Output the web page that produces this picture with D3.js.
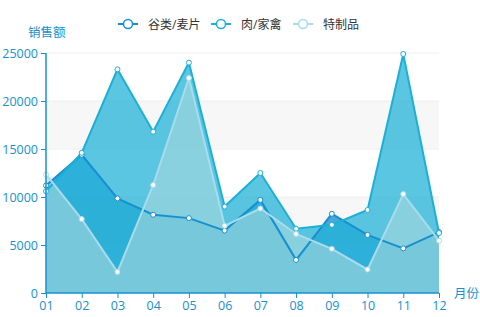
<!DOCTYPE html>
<html>
<head>
<meta charset="utf-8">
<script src="https://cdn.jsdelivr.net/npm/d3@7"></script>
<style>
  body { margin: 0; background: #fff; }
  svg { display: block; font-family: "Open Sans", "Noto Sans CJK SC", sans-serif; }
</style>
</head>
<body>
<svg width="480" height="317"></svg>
<script>
var months = ["01", "02", "03", "04", "05", "06", "07", "08", "09", "10", "11", "12"];
var seriesNames = ["谷类/麦片", "肉/家禽", "特制品"];
var cereal = [11200, 14400, 9850, 8150, 7800, 6500, 9700, 3450, 8250, 6050, 4650, 6350];
var meat = [10600, 14600, 23300, 16800, 24000, 9000, 12500, 6700, 7100, 8650, 24900, 6250];
var special = [12350, 7700, 2200, 11250, 22400, 7000, 8800, 6150, 4600, 2450, 10300, 5450];
var yTicks = [0, 5000, 10000, 15000, 20000, 25000];

var lineColors = ["#1790cf", "#1bb0d8", "#a8dcec"];
var fillColors = ["#1790cf", "#24b3d8", "#aad8de"];
var fillOpacity = [0.78, 0.75, 0.6];
var axisColor = "#1790cf";

var svg = d3.select("svg");
var plotLeft = 46, plotRight = 439, plotTop = 53, plotBottom = 293;

var x = d3.scalePoint().domain(months).range([plotLeft, plotRight]);
var y = d3.scaleLinear().domain([0, 25000]).range([plotBottom, plotTop]);

// split areas
for (var i = 0; i < yTicks.length - 1; i++) {
  svg.append("rect")
    .attr("x", plotLeft).attr("width", plotRight - plotLeft)
    .attr("y", y(yTicks[i + 1])).attr("height", y(yTicks[i]) - y(yTicks[i + 1]))
    .attr("fill", i % 2 ? "#f7f7f7" : "#fff");
}

// grid lines
svg.append("g").selectAll("line")
  .data(yTicks.slice(1))
  .enter().append("line")
  .attr("x1", plotLeft).attr("x2", plotRight)
  .attr("y1", d => y(d)).attr("y2", d => y(d))
  .attr("stroke", "#eee");

var data = [cereal, meat, special];

var area = d3.area()
  .x((d, i) => x(months[i]))
  .y0(y(0))
  .y1(d => y(d));
var line = d3.line()
  .x((d, i) => x(months[i]))
  .y(d => y(d));

data.forEach(function (s, k) {
  svg.append("path")
    .attr("d", area(s))
    .attr("fill", fillColors[k])
    .attr("fill-opacity", fillOpacity[k]);
});
data.forEach(function (s, k) {
  svg.append("path")
    .attr("d", line(s))
    .attr("fill", "none")
    .attr("stroke", lineColors[k])
    .attr("stroke-width", 2);
});
data.forEach(function (s, k) {
  svg.append("g").selectAll("circle")
    .data(s)
    .enter().append("circle")
    .attr("cx", (d, i) => x(months[i]))
    .attr("cy", d => y(d))
    .attr("r", 2.5)
    .attr("fill", "#fff")
    .attr("stroke", lineColors[k])
    .attr("stroke-width", 1);
});

// axes
var yAxis = d3.axisLeft(y).tickValues(yTicks).tickSize(5).tickPadding(3).tickFormat(d3.format("d"));
var xAxis = d3.axisBottom(x).tickSize(5).tickPadding(3);

var gy = svg.append("g").attr("transform", "translate(" + plotLeft + ",0)").call(yAxis);
var gx = svg.append("g").attr("transform", "translate(0," + plotBottom + ")").call(xAxis);

[gy, gx].forEach(function (g) {
  g.select(".domain").attr("stroke", axisColor).attr("stroke-width", 1.5);
  g.selectAll(".tick line").attr("stroke", axisColor);
  g.selectAll(".tick text").attr("fill", axisColor).attr("font-size", 12.5)
    .attr("font-family", "'Open Sans', sans-serif");
});
gx.select(".domain").attr("d", "M" + plotLeft + ",0H" + plotRight);
gy.select(".domain").attr("d", "M0," + plotTop + "V" + plotBottom);

svg.append("text").attr("x", 28).attr("y", 37)
  .attr("fill", axisColor).attr("font-size", 12.5).text("销售额");
svg.append("text").attr("x", 454).attr("y", 298)
  .attr("fill", axisColor).attr("font-size", 12.5).text("月份");

// legend
var legendX = [118, 211, 293];
var legend = svg.append("g").selectAll("g")
  .data(seriesNames)
  .enter().append("g")
  .attr("transform", (d, i) => "translate(" + legendX[i] + ",24)");
legend.append("line")
  .attr("x1", 0).attr("x2", 20)
  .attr("stroke", (d, i) => lineColors[i]).attr("stroke-width", 2);
legend.append("circle")
  .attr("cx", 10).attr("r", 4.5)
  .attr("fill", "#fff")
  .attr("stroke", (d, i) => lineColors[i]).attr("stroke-width", 1.5);
legend.append("text")
  .attr("x", 30).attr("y", 4.5)
  .attr("font-size", 12).attr("fill", "#333")
  .text(d => d);
</script>
</body>
</html>
